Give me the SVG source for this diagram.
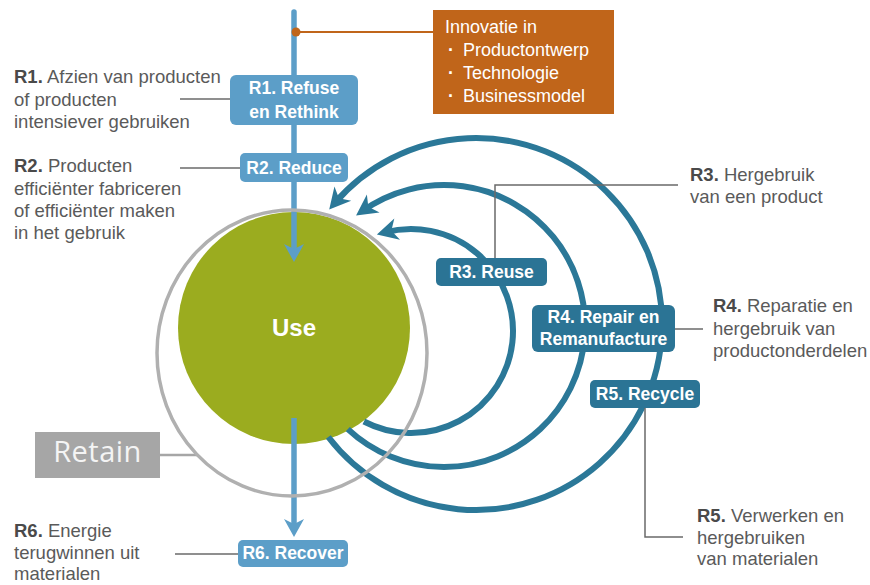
<svg xmlns="http://www.w3.org/2000/svg" width="870" height="585" viewBox="0 0 870 585">
<style>
.lbl{font-family:"Liberation Sans",Arial,sans-serif;font-size:18.5px;fill:#5a5a5a}
.lbl tspan.b{font-weight:bold;fill:#4a4a4a}
.bt{font-family:"Liberation Sans",Arial,sans-serif;font-size:17.5px;font-weight:bold;fill:#ffffff;text-anchor:middle}
.lb{fill:#5c9ec8}
.db{fill:#2b7495}
.lead{fill:none;stroke:#6a6a6a;stroke-width:1.5}
.arc{fill:none;stroke:#2b7898;stroke-width:6;marker-end:url(#ad)}
.vline{fill:none;stroke:#5c9ec8;stroke-width:5.5;marker-end:url(#al)}
.orn{font-family:"Liberation Sans",Arial,sans-serif;font-size:18px;fill:#ffffff}
</style>
<defs>
<marker id="ad" markerUnits="userSpaceOnUse" viewBox="-16 -13 26 26" refX="0" refY="0" markerWidth="26" markerHeight="26" orient="auto">
<path d="M8,0 L-13,-11 L-7,0 L-13,11 Z" fill="#2b7898"/>
</marker>
<marker id="al" markerUnits="userSpaceOnUse" viewBox="-14 -12 24 24" refX="0" refY="0" markerWidth="24" markerHeight="24" orient="auto">
<path d="M8,0 L-10,-10 L-5,0 L-10,10 Z" fill="#5c9ec8"/>
</marker>
</defs>
<rect width="870" height="585" fill="#ffffff"/>

<g id="use">
<circle cx="294" cy="328" r="116" fill="#9bac1f"/>
<text x="294" y="336" font-family="Liberation Sans,Arial,sans-serif" font-size="24" font-weight="bold" fill="#ffffff" text-anchor="middle">Use</text>
</g>

<g id="connectors">
<path class="arc" d="M328.3,437 A186,186 0 1 0 334.4,203.5"/>
<path class="arc" d="M347.8,429.1 A141,141 0 1 0 362.6,210.9"/>
<path class="arc" d="M363.9,421.5 A102,102 0 1 0 384.6,232.5"/>
<path class="vline" d="M294,12 L294,254" stroke-linecap="round"/>
<path class="vline" d="M294,418 L294,529"/>
<line x1="296" y1="32" x2="433" y2="32" stroke="#c0651a" stroke-width="2"/>
<circle cx="296" cy="32" r="4.5" fill="#c0651a"/>
<path class="lead" d="M180,99 H230"/>
<path class="lead" d="M180,168 H240"/>
<path class="lead" d="M678,185 H495 V258"/>
<path class="lead" d="M675,329 H703"/>
<path class="lead" d="M645,408 V537 H683"/>
<path class="lead" d="M175,554 H238"/>
<path d="M160,455 H197" fill="none" stroke="#a6a6a6" stroke-width="2.5"/>
</g>

<g id="retain">
<ellipse cx="292" cy="353" rx="135" ry="143" fill="none" stroke="#b0b0b0" stroke-width="3.5"/>
<rect x="35" y="432" width="125" height="46" fill="#a6a6a6"/>
<text x="97.5" y="462" font-family="Open Sans,Liberation Sans,sans-serif" font-size="29" fill="#f4f4f4" text-anchor="middle" letter-spacing="0.5">Retain</text>
</g>

<g id="innovatie">
<rect x="433" y="10" width="181" height="104" fill="#c0651a"/>
<text class="orn" x="445" y="33">Innovatie in</text>
<text class="orn" x="448" y="56" font-weight="bold">·</text><text class="orn" x="463" y="56">Productontwerp</text>
<text class="orn" x="448" y="79" font-weight="bold">·</text><text class="orn" x="463" y="79">Technologie</text>
<text class="orn" x="448" y="102" font-weight="bold">·</text><text class="orn" x="463" y="102">Businessmodel</text>
</g>

<g id="r1">
<rect class="lb" x="230" y="75" width="128" height="50" rx="6"/>
<text class="bt" x="294" y="94">R1. Refuse</text>
<text class="bt" x="294" y="118">en Rethink</text>
<text class="lbl" x="14" y="83"><tspan class="b">R1.</tspan> Afzien van producten</text>
<text class="lbl" x="14" y="105.5">of producten</text>
<text class="lbl" x="14" y="128">intensiever gebruiken</text>
</g>

<g id="r2">
<rect class="lb" x="240" y="153" width="108" height="29" rx="5"/>
<text class="bt" x="294" y="174">R2. Reduce</text>
<text class="lbl" x="14" y="172"><tspan class="b">R2.</tspan> Producten</text>
<text class="lbl" x="14" y="194.5">efficiënter fabriceren</text>
<text class="lbl" x="14" y="217">of efficiënter maken</text>
<text class="lbl" x="14" y="239">in het gebruik</text>
</g>

<g id="r3">
<rect class="db" x="436" y="258" width="111" height="28" rx="5"/>
<text class="bt" x="491.5" y="278">R3. Reuse</text>
<text class="lbl" x="690" y="181"><tspan class="b">R3.</tspan> Hergebruik</text>
<text class="lbl" x="690" y="203">van een product</text>
</g>

<g id="r4">
<rect class="db" x="532" y="305" width="143" height="47" rx="6"/>
<text class="bt" x="603.5" y="323">R4. Repair en</text>
<text class="bt" x="603.5" y="345">Remanufacture</text>
<text class="lbl" x="713" y="312"><tspan class="b">R4.</tspan> Reparatie en</text>
<text class="lbl" x="713" y="335">hergebruik van</text>
<text class="lbl" x="713" y="357">productonderdelen</text>
</g>

<g id="r5">
<rect class="db" x="590" y="380" width="110" height="28" rx="5"/>
<text class="bt" x="645" y="400">R5. Recycle</text>
<text class="lbl" x="697" y="522"><tspan class="b">R5.</tspan> Verwerken en</text>
<text class="lbl" x="697" y="544">hergebruiken</text>
<text class="lbl" x="697" y="565">van materialen</text>
</g>

<g id="r6">
<rect class="lb" x="238" y="540" width="110" height="27" rx="5"/>
<text class="bt" x="293" y="559">R6. Recover</text>
<text class="lbl" x="14" y="537"><tspan class="b">R6.</tspan> Energie</text>
<text class="lbl" x="14" y="559">terugwinnen uit</text>
<text class="lbl" x="14" y="580">materialen</text>
</g>
</svg>
